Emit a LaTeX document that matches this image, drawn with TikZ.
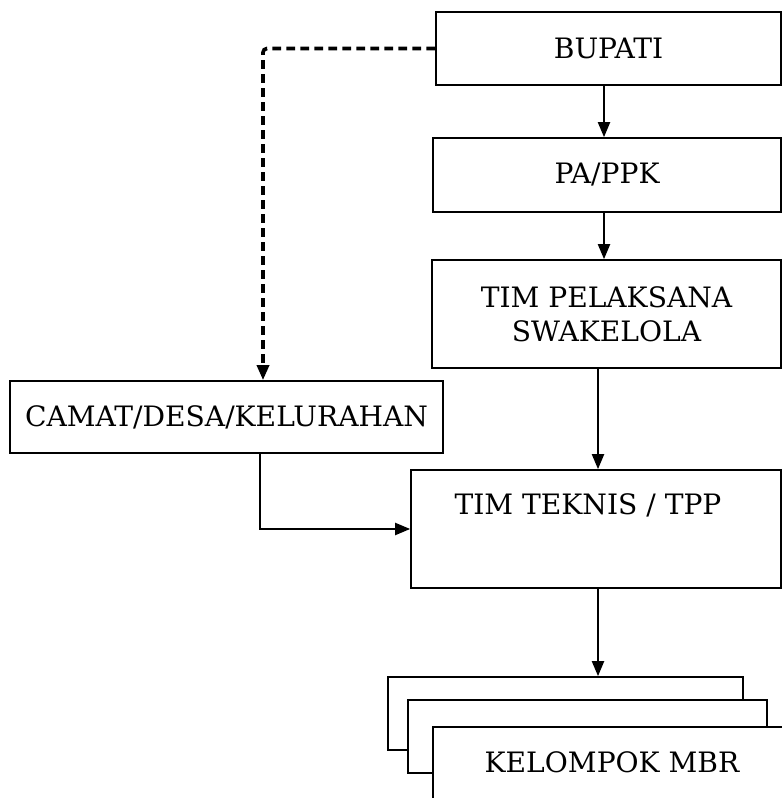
\documentclass[tikz,border=0pt]{standalone}
\usepackage{fontspec}
\setmainfont{DejaVu Serif}
\usetikzlibrary{arrows.meta}

\tikzset{
  boite/.style={draw, line width=1.1pt, fill=white, inner sep=0pt},
  texte/.style={font=\fontsize{20}{24}\selectfont, align=center},
  fleche/.style={line width=1.7pt, -{Triangle[length=3.8mm,width=3mm]}},
  tirets/.style={line width=2.6pt, dash pattern=on 2.2mm off 1.3mm,
    rounded corners=1mm, -{Triangle[length=3.8mm,width=3mm]}}
}

\begin{document}
\begin{tikzpicture}

      \useasboundingbox (0,0) rectangle (19.55,19.95);
      \clip (0,0) rectangle (19.55,19.95);

      %boites
      \node[boite, texte, minimum width=8.625cm, minimum height=1.825cm] (bupati) at (15.2125,18.7375) {BUPATI};
      \node[boite, texte, minimum width=8.7cm, minimum height=1.85cm] (pa) at (15.175,15.575) {PA/PPK};
      \node[boite, texte, minimum width=8.725cm, minimum height=2.7cm] (pelaksana) at (15.1625,12.1) {TIM PELAKSANA\\SWAKELOLA};
      \node[boite, texte, minimum width=10.825cm, minimum height=1.8cm] (camat) at (5.6625,9.525) {CAMAT/DESA/KELURAHAN};
      \node[boite, minimum width=9.25cm, minimum height=2.95cm] (teknis) at (14.9,6.725) {};
      \node[texte] (teknislabel) at (14.7,7.325) {TIM TEKNIS / TPP};

      %pile de boites
      \node[boite, minimum width=8.875cm, minimum height=1.825cm] (mbrA) at (14.1375,2.1125) {};
      \node[boite, minimum width=8.975cm, minimum height=1.825cm] (mbrB) at (14.6875,1.5375) {};
      \node[boite, minimum width=9.375cm, minimum height=2.275cm] (mbrC) at (15.5125,0.6375) {};
      \node[texte] (mbrlabel) at (15.3,0.9) {KELOMPOK MBR};

      %fleches
      \coordinate (xa) at (15.1,0);
      \coordinate (xb) at (14.95,0);
      \coordinate (xc) at (6.5,0);
      \coordinate (xd) at (6.575,0);
      \draw[fleche] (bupati.south -| xa) -- (pa.north -| xa);
      \draw[fleche] (pa.south -| xa) -- (pelaksana.north -| xa);
      \draw[fleche] (pelaksana.south -| xb) -- (teknis.north -| xb);
      \draw[fleche] (teknis.south -| xb) -- (mbrA.north -| xb);
      \draw[fleche] (camat.south -| xc) |- (teknis.west);

      %ligne pointillee
      \draw[tirets] (bupati.west) -| (camat.north -| xd);

    \end{tikzpicture}
\end{document}
